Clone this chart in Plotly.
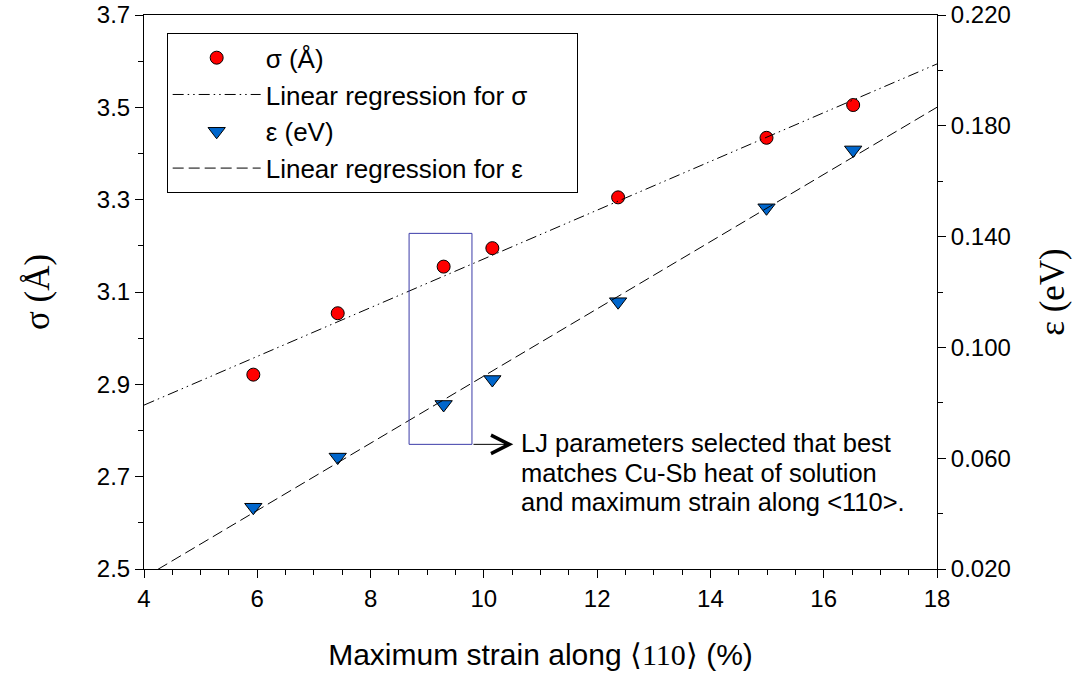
import plotly.graph_objects as go

# ---- data ----
strain = [5.93, 7.42, 9.29, 10.15, 12.37, 14.99, 16.52]
sigma = [2.921, 3.054, 3.155, 3.195, 3.305, 3.434, 3.505]
epsilon = [0.0423, 0.0604, 0.0794, 0.0884, 0.1165, 0.1504, 0.1713]

sigma_fit_x = [4.0, 18.0]
sigma_fit_y = [2.855, 3.594]
eps_fit_x = [4.0, 18.0]
eps_fit_y = [0.0169, 0.1867]

x_ticks = [4, 6, 8, 10, 12, 14, 16, 18]
sigma_ticks = [2.5, 2.7, 2.9, 3.1, 3.3, 3.5, 3.7]
eps_ticks = [0.020, 0.060, 0.100, 0.140, 0.180, 0.220]

box_x = [8.68, 9.79]
box_sigma = [2.770, 3.227]
arrow_head_x = 10.52
note_lines = ["LJ parameters selected that best",
              "matches Cu-Sb heat of solution",
              "and maximum strain along &lt;110&gt;."]

SANS = "Liberation Sans, Arial, sans-serif"
SERIF = "Liberation Serif, Times New Roman, serif"

fig = go.Figure()
fig.add_trace(go.Scatter(
    x=strain, y=sigma, mode="markers", name="σ (Å)", legendgroup="a",
    marker=dict(symbol="circle", size=13, color="#ff0000",
                line=dict(color="black", width=1))))
fig.add_trace(go.Scatter(
    x=sigma_fit_x, y=sigma_fit_y, mode="lines",
    name="Linear regression for σ\u00a0\u00a0\u00a0\u00a0\u00a0\u00a0",
    legendgroup="b",
    line=dict(color="black", width=1, dash="11px,4px,1.5px,4px,1.5px,4px")))
fig.add_trace(go.Scatter(
    x=strain, y=epsilon, mode="markers", name="ε (eV)", yaxis="y2", legendgroup="c",
    marker=dict(symbol="triangle-down", size=15, color="#0066cc",
                line=dict(color="black", width=1))))
fig.add_trace(go.Scatter(
    x=eps_fit_x, y=eps_fit_y, mode="lines", name="Linear regression for ε",
    yaxis="y2", legendgroup="d",
    line=dict(color="black", width=1, dash="11px,5px")))

fig.add_shape(type="rect", xref="x", yref="y",
              x0=box_x[0], x1=box_x[1], y0=box_sigma[0], y1=box_sigma[1],
              line=dict(color="#3b3ba8", width=1))

fig.add_annotation(x=arrow_head_x, y=box_sigma[0], ax=box_x[1], ay=box_sigma[0],
                   xref="x", yref="y", axref="x", ayref="y", text="",
                   showarrow=True, arrowhead=5, arrowsize=3.6, arrowwidth=1,
                   arrowcolor="black", standoff=0, startstandoff=0)

note_x = 10.62
note_top = 2.772      # sigma units at centre of the first line
note_step = 0.0630    # sigma units between lines
for i, line in enumerate(note_lines):
    fig.add_annotation(x=note_x, y=note_top - i * note_step, xref="x", yref="y",
                       text=line, showarrow=False, xanchor="left", yanchor="middle",
                       align="left",
                       font=dict(family=SANS, size=25.5, color="black"))

axis_common = dict(showline=True, linecolor="black", linewidth=1,
                   ticks="outside", ticklen=8, tickwidth=1, tickcolor="black",
                   showgrid=False, zeroline=False,
                   tickfont=dict(family=SANS, size=24, color="black"))

fig.update_layout(
    width=1082, height=679,
    margin=dict(l=144, r=145, t=15, b=110, autoexpand=False),
    paper_bgcolor="white", plot_bgcolor="white",
    showlegend=True,
    legend=dict(x=0.0286, y=0.967, xanchor="left", yanchor="top",
                bgcolor="white", bordercolor="black", borderwidth=1,
                font=dict(family=SANS, size=26, color="black"),
                tracegroupgap=0, itemwidth=88, traceorder="normal"),
    xaxis=dict(range=[4, 18], tickvals=x_ticks, mirror=True,
               minor=dict(dtick=0.5, tick0=4, ticks="outside", ticklen=5,
                          tickcolor="black"),
               title=dict(text='Maximum strain along <span style="font-family:Liberation Serif">⟨110⟩</span> (%)',
                          font=dict(family=SANS, size=30, color="black"),
                          standoff=33),
               **axis_common),
    yaxis=dict(range=[2.5, 3.7], tickvals=sigma_ticks, tickformat=".1f",
               minor=dict(dtick=0.1, tick0=2.5, ticks="outside", ticklen=5,
                          tickcolor="black"),
               title=dict(text="σ (Å)", font=dict(family=SERIF, size=35, color="black"),
                          standoff=36),
               **axis_common),
    yaxis2=dict(range=[0.020, 0.220], tickvals=eps_ticks, tickformat=".3f",
                overlaying="y", side="right", anchor="x",
                minor=dict(dtick=0.02, tick0=0.02, ticks="outside", ticklen=5,
                           tickcolor="black"),
                title=dict(text="ε (eV)", font=dict(family=SERIF, size=35, color="black"),
                           standoff=29),
                **axis_common),
)

fig.write_html("out.html")
